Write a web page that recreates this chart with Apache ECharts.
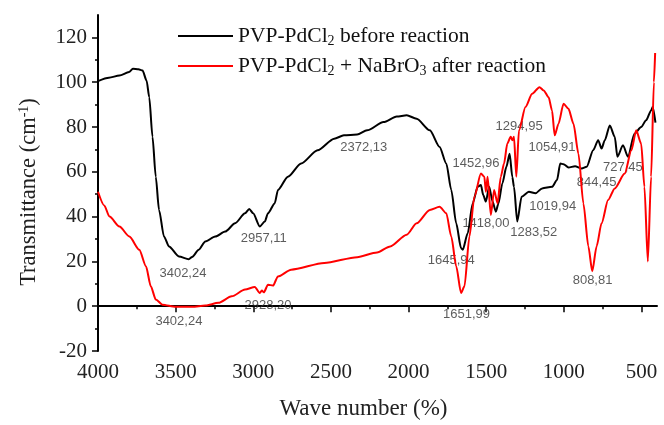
<!DOCTYPE html>
<html>
<head>
<meta charset="utf-8">
<script src="https://cdn.jsdelivr.net/npm/echarts@6/dist/echarts.min.js"></script>
<style>html,body{margin:0;padding:0;background:#fff}#c{width:664px;height:425px}</style>
</head>
<body>
<div id="c"></div>
<script>
// Wave number / transmittance pairs
var blackSeries = [[4000,100.5],[3930,102],[3862,103],[3800,104.5],[3775,106],[3740,105.8],[3713,105.2],[3687,100.7],[3670,93.3],[3649,75.6],[3628,57.8],[3607,43],[3575,31.1],[3543,26.7],[3479,22.2],[3415,21],[3394,22],[3351,25.2],[3309,28.9],[3245,31.1],[3181,33.3],[3117,37],[3053,41.5],[3026,43.4],[3001,41.5],[2958,35.6],[2926,37.8],[2905,41.5],[2862,45.9],[2841,51.9],[2777,57.8],[2692,63.7],[2586,69.6],[2479,74.8],[2416,76.3],[2331,76.6],[2267,78.5],[2161,82.2],[2076,84.7],[2012,85.2],[1948,83.7],[1863,78.5],[1800,71.1],[1757,63.7],[1725,51.9],[1693,37],[1662,25.9],[1651,25.2],[1619,32.6],[1587,45.9],[1555,53.3],[1534,54.1],[1519,49.6],[1502,46.7],[1481,53.3],[1459,46.7],[1438,42.2],[1421,45.9],[1396,54.8],[1370,62.2],[1349,68.1],[1332,57.8],[1321,53.3],[1300,37.8],[1272,48.9],[1225,51.1],[1183,50.4],[1140,52.6],[1076,53.3],[1044,56.3],[1023,63.7],[1002,63.4],[970,61.9],[928,62.5],[885,61.5],[853,62.2],[811,69.6],[779,74.1],[757,70.4],[736,74.1],[704,80.7],[672,75.6],[655,66.7],[619,71.9],[587,66.7],[545,77],[502,80],[470,83],[438,87.4],[428,88.9],[410,82]];
var redSeries = [[4000,51.1],[3960,45],[3926,40],[3862,35.6],[3798,31.1],[3734,25.2],[3691,17.8],[3660,8.9],[3628,3],[3585,0.7],[3500,-0.3],[3394,-0.3],[3309,0.3],[3224,1.5],[3139,4.4],[3053,7.4],[2990,8.6],[2958,5.9],[2945,7],[2932,6.2],[2905,9.6],[2873,9.2],[2841,13.3],[2756,16.3],[2543,19.3],[2331,21.9],[2203,24],[2118,26.7],[2012,31.9],[1948,37],[1863,43],[1800,44.4],[1757,41.5],[1725,31.1],[1693,17.8],[1662,5.9],[1640,8.9],[1608,31.1],[1576,48.9],[1534,59.2],[1512,57.8],[1502,51.1],[1491,57.8],[1470,40.7],[1449,51.9],[1427,45.9],[1406,57.8],[1385,63.7],[1364,72.6],[1342,75.6],[1332,74.1],[1321,75.6],[1306,57.8],[1289,78.5],[1247,88.9],[1204,94.8],[1157,97.8],[1130,96.3],[1098,93.3],[1076,87.4],[1059,76.3],[1034,81.5],[1002,90.4],[970,88.1],[938,81.5],[906,68.1],[874,45.9],[842,26.7],[817,15.6],[789,26.7],[757,37],[715,47.4],[672,52.6],[608,59.2],[565,69.6],[534,78.5],[502,72.6],[481,53.3],[459,20],[438,57.8],[420,100],[412,113]];
// Peak annotations: [wave position, transmittance position, text]
var peakLabels = [[3453,14.8,'3402,24'],[3479,-6.7,'3402,24'],[2932,30.4,'2957,11'],[2905,0.3,'2928,20'],[2288,71.1,'2372,13'],[1566,63.7,'1452,96'],[1288,80.3,'1294,95'],[1076,70.8,'1054,91'],[1502,37,'1418,00'],[1194,32.9,'1283,52'],[1072,44.7,'1019,94'],[1725,20.4,'1645,94'],[1627,-3.6,'1651,99'],[815,11.6,'808,81'],[789,55.1,'844,45'],[620,61.9,'727,45']];
var xMajorTicks = [500,1000,1500,2000,2500,3000,3500,4000];
var xMinorTicks = [750,1250,1750,2250,2750,3250,3750];
var yMajorTicks = [-20,0,20,40,60,80,100,120];
var yMinorTicks = [-10,10,30,50,70,90,110];

var serif = 'Liberation Serif';
var chart = echarts.init(document.getElementById('c'), null, {renderer:'canvas'});
var legendRich = {
  t:{fontFamily:serif,fontSize:21.5,color:'#111',lineHeight:24},
  s:{fontFamily:serif,fontSize:14,color:'#111',lineHeight:24,verticalAlign:'bottom',padding:[8,0,0,0]}
};
function plain(v){ return String(v); }
chart.setOption({
  animation:false,
  grid:{left:98,right:3,top:15,bottom:70,containLabel:false},
  legend:{
    left:178, top:25, padding:0, orient:'vertical', itemWidth:55, itemHeight:2, itemGap:7, icon:'rect',
    data:['before','after'],
    formatter:function(n){
      return n==='before' ? '{t|PVP-PdCl}{s|2}{t| before reaction}' : '{t|PVP-PdCl}{s|2}{t| + NaBrO}{s|3}{t| after reaction}';
    },
    textStyle:{rich:legendRich}
  },
  xAxis:[{
    type:'value', min:400, max:4000, inverse:true,
    axisLine:{lineStyle:{color:'#000',width:2}},
    axisTick:{show:true,inside:false,length:6,lineStyle:{color:'#000',width:1.5},customValues:xMajorTicks},
    axisLabel:{customValues:xMajorTicks,formatter:plain,fontFamily:serif,fontSize:21,color:'#222',margin:11},
    splitLine:{show:false},
    name:'Wave number (%)', nameLocation:'middle', nameGap:46,
    nameTextStyle:{fontFamily:serif,fontSize:23,color:'#222',padding:[0,28,0,0]}
  },{
    type:'value', min:400, max:4000, inverse:true, position:'bottom',
    axisLine:{show:false},
    axisTick:{show:true,length:3,lineStyle:{color:'#000',width:1.5},customValues:xMinorTicks},
    axisLabel:{show:false}, splitLine:{show:false}
  }],
  yAxis:[{
    type:'value', min:-20, max:130,
    axisLine:{show:true,lineStyle:{color:'#000',width:2}},
    axisTick:{show:true,length:6,lineStyle:{color:'#000',width:1.5},customValues:yMajorTicks},
    axisLabel:{customValues:yMajorTicks,formatter:plain,fontFamily:serif,fontSize:21,color:'#222',margin:11},
    splitLine:{show:false},
    name:'Transmittance (cm{sup|-1})', nameLocation:'middle', nameGap:57, nameRotate:90,
    nameTextStyle:{fontFamily:serif,fontSize:22.5,color:'#222',padding:[0,18,0,0],
      rich:{sup:{fontFamily:serif,fontSize:14,color:'#222',verticalAlign:'top',padding:[0,0,10,0]}}}
  },{
    type:'value', min:-20, max:130, position:'left',
    axisLine:{show:false},
    axisTick:{show:true,length:3,lineStyle:{color:'#000',width:1.5},customValues:yMinorTicks},
    axisLabel:{show:false}, splitLine:{show:false}
  }],
  series:[{
    name:'before', type:'line', data:blackSeries, showSymbol:false, symbol:'none',
    smooth:0.25, smoothMonotone:'x', lineStyle:{color:'#000',width:2}, itemStyle:{color:'#000'}
  },{
    name:'after', type:'line', data:redSeries, showSymbol:false, symbol:'none',
    smooth:0.25, smoothMonotone:'x', lineStyle:{color:'#ff0000',width:2}, itemStyle:{color:'#ff0000'}
  },{
    name:'labels', type:'scatter', data:peakLabels, symbolSize:0, silent:true,
    label:{show:true,position:'inside',formatter:function(p){return p.value[2];},
      fontFamily:'Liberation Sans',fontSize:13,color:'#333'}
  }]
});
</script>
</body>
</html>
